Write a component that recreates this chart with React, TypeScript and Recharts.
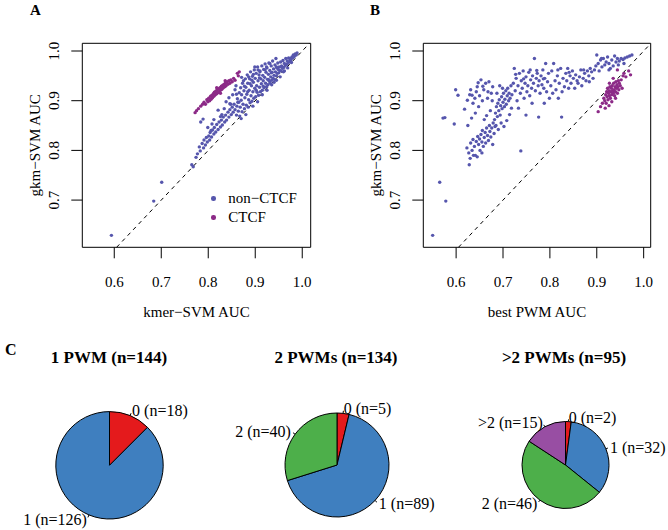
import React from 'react';
import { ScatterChart, Scatter, XAxis, YAxis, ReferenceLine, ReferenceArea, Legend, PieChart, Pie, Cell } from 'recharts';

const FONT = '"Liberation Serif", "Times New Roman", serif';
const NON_CTCF_COLOR = '#5656ad';
const CTCF_COLOR = '#8c2a87';

const X_TICKS = [0.6, 0.7, 0.8, 0.9, 1.0];
const Y_TICKS = [0.7, 0.8, 0.9, 1.0];
const Y_DOMAIN = [0.605, 1.0155];
const XA_DOMAIN = [0.532, 1.018];
const XB_DOMAIN = [0.53, 1.015];
const DIAG_A = [0.605, 1.0155];
const DIAG_B = [0.605, 1.015];
const LEGEND_ORDER = ['non\u2212CTCF', 'CTCF'];

// A: kmer-SVM AUC (x) vs gkm-SVM AUC (y)
const A_OTHER: [number, number][] = [
  [0.594, 0.629], [0.684, 0.698], [0.701, 0.736], [0.765, 0.771], [0.768, 0.767],
  [0.774, 0.786], [0.777, 0.793], [0.781, 0.807], [0.783, 0.799], [0.787, 0.814], [0.79, 0.805], [0.791, 0.821],
  [0.794, 0.811], [0.796, 0.826], [0.798, 0.817], [0.801, 0.829], [0.803, 0.821], [0.804, 0.836], [0.807, 0.827],
  [0.809, 0.841], [0.812, 0.833], [0.813, 0.846], [0.816, 0.837], [0.818, 0.852], [0.821, 0.842], [0.823, 0.857],
  [0.826, 0.847], [0.828, 0.861], [0.83, 0.851], [0.832, 0.867], [0.835, 0.857], [0.837, 0.871], [0.839, 0.861],
  [0.842, 0.877], [0.844, 0.867], [0.846, 0.882], [0.849, 0.872], [0.851, 0.887], [0.853, 0.877], [0.855, 0.893],
  [0.857, 0.882],
  [0.789, 0.863], [0.784, 0.857], [0.799, 0.846], [0.808, 0.853], [0.821, 0.881], [0.829, 0.872], [0.838, 0.898],
  [0.844, 0.906], [0.848, 0.893], [0.852, 0.912], [0.857, 0.922], [0.859, 0.93], [0.812, 0.862], [0.834, 0.884],
  [0.86, 0.871], [0.861, 0.889], [0.862, 0.904], [0.864, 0.879], [0.865, 0.897], [0.866, 0.916], [0.867, 0.869],
  [0.868, 0.887], [0.869, 0.926], [0.87, 0.901], [0.871, 0.912], [0.872, 0.878], [0.873, 0.935], [0.874, 0.893],
  [0.876, 0.92], [0.877, 0.884], [0.878, 0.906], [0.879, 0.944], [0.88, 0.927], [0.881, 0.891], [0.882, 0.913],
  [0.883, 0.952], [0.884, 0.935], [0.885, 0.887], [0.886, 0.902], [0.887, 0.921], [0.888, 0.944], [0.889, 0.896],
  [0.89, 0.958], [0.891, 0.91], [0.892, 0.93], [0.893, 0.899], [0.894, 0.949], [0.895, 0.918], [0.896, 0.937],
  [0.897, 0.905], [0.898, 0.962], [0.899, 0.925], [0.9, 0.945], [0.901, 0.908], [0.902, 0.955], [0.903, 0.93],
  [0.904, 0.917], [0.905, 0.968], [0.906, 0.94], [0.907, 0.911], [0.908, 0.952], [0.909, 0.927], [0.91, 0.96],
  [0.911, 0.918], [0.912, 0.944], [0.913, 0.934], [0.914, 0.97], [0.915, 0.921], [0.916, 0.951], [0.917, 0.94],
  [0.918, 0.963], [0.919, 0.926], [0.92, 0.947], [0.921, 0.974], [0.922, 0.935], [0.923, 0.957], [0.924, 0.928],
  [0.925, 0.966], [0.926, 0.943], [0.927, 0.932], [0.928, 0.953], [0.929, 0.976], [0.93, 0.939], [0.931, 0.961],
  [0.932, 0.935], [0.933, 0.948], [0.934, 0.97], [0.935, 0.941], [0.936, 0.957], [0.937, 0.98], [0.938, 0.945],
  [0.939, 0.964], [0.94, 0.951], [0.941, 0.943], [0.942, 0.972], [0.943, 0.958], [0.944, 0.985], [0.945, 0.95],
  [0.946, 0.966], [0.947, 0.955], [0.948, 0.976], [0.95, 0.956], [0.951, 0.968], [0.952, 0.961], [0.954, 0.978],
  [0.955, 0.96], [0.956, 0.97], [0.958, 0.965], [0.959, 0.981], [0.961, 0.967], [0.962, 0.975], [0.964, 0.971],
  [0.965, 0.985], [0.967, 0.973], [0.968, 0.98], [0.97, 0.976], [0.971, 0.986], [0.973, 0.979], [0.974, 0.985],
  [0.976, 0.983], [0.978, 0.988], [0.98, 0.986], [0.981, 0.992], [0.983, 0.989], [0.985, 0.994], [0.987, 0.992],
  [0.989, 0.996], [0.945, 0.968], [0.931, 0.975], [0.924, 0.968], [0.91, 0.958], [0.899, 0.968], [0.956, 0.968],
  [0.886, 0.948], [0.875, 0.94], [0.895, 0.889], [0.905, 0.898], [0.915, 0.912], [0.925, 0.921], [0.935, 0.932],
  [0.945, 0.941], [0.962, 0.96], [0.88, 0.872], [0.87, 0.864],
  [0.863, 0.897], [0.877, 0.929], [0.884, 0.918], [0.893, 0.941], [0.902, 0.921], [0.909, 0.946], [0.917, 0.929],
  [0.921, 0.962], [0.928, 0.943], [0.934, 0.956], [0.94, 0.937], [0.949, 0.963], [0.953, 0.948], [0.96, 0.958],
  [0.969, 0.966], [0.977, 0.977], [0.896, 0.953], [0.906, 0.962], [0.889, 0.934], [0.871, 0.947], [0.86, 0.913],
  [0.846, 0.894], [0.826, 0.868], [0.806, 0.84],
];

const A_CTCF: [number, number][] = [
  [0.772, 0.876], [0.775, 0.88], [0.779, 0.884], [0.784, 0.889], [0.788, 0.893], [0.791, 0.897], [0.794, 0.893],
  [0.797, 0.902], [0.799, 0.898], [0.801, 0.905], [0.803, 0.9], [0.805, 0.909], [0.806, 0.903], [0.808, 0.911],
  [0.809, 0.906], [0.811, 0.914], [0.812, 0.909], [0.813, 0.917], [0.815, 0.912], [0.816, 0.919], [0.818, 0.914],
  [0.819, 0.922], [0.82, 0.916], [0.822, 0.924], [0.823, 0.918], [0.825, 0.926], [0.826, 0.921], [0.828, 0.929],
  [0.829, 0.923], [0.831, 0.931], [0.832, 0.926], [0.834, 0.933], [0.835, 0.928], [0.837, 0.936], [0.838, 0.93],
  [0.84, 0.938], [0.842, 0.933], [0.844, 0.94], [0.846, 0.935], [0.848, 0.942], [0.851, 0.938], [0.854, 0.945],
  [0.857, 0.941], [0.862, 0.955], [0.866, 0.958], [0.864, 0.95], [0.818, 0.926], [0.826, 0.915], [0.836, 0.94],
];

// B: best PWM AUC (x) vs gkm-SVM AUC (y)
const B_OTHER: [number, number][] = [
  [0.55, 0.629], [0.565, 0.736], [0.578, 0.698], [0.596, 0.853], [0.572, 0.865], [0.576, 0.866], [0.604, 0.911],
  [0.599, 0.922], [0.866, 0.962], [0.825, 0.867],
  [0.628, 0.771], [0.623, 0.805], [0.627, 0.795], [0.631, 0.815], [0.634, 0.8], [0.636, 0.822], [0.639, 0.808],
  [0.641, 0.79], [0.643, 0.818], [0.645, 0.787], [0.646, 0.828], [0.648, 0.812], [0.65, 0.823], [0.651, 0.8],
  [0.653, 0.832], [0.655, 0.817], [0.656, 0.84], [0.658, 0.808], [0.66, 0.826], [0.662, 0.836], [0.663, 0.815],
  [0.665, 0.845], [0.667, 0.83], [0.669, 0.82], [0.671, 0.85], [0.672, 0.838], [0.674, 0.827], [0.676, 0.845],
  [0.678, 0.812], [0.679, 0.855], [0.681, 0.834], [0.683, 0.848], [0.637, 0.79], [0.655, 0.795], [0.63, 0.784],
  [0.618, 0.883], [0.624, 0.901], [0.629, 0.912], [0.631, 0.922], [0.636, 0.895], [0.64, 0.905], [0.643, 0.918],
  [0.645, 0.928], [0.648, 0.888], [0.65, 0.91], [0.653, 0.942], [0.656, 0.9], [0.659, 0.922], [0.663, 0.935],
  [0.665, 0.87], [0.667, 0.905], [0.67, 0.938], [0.673, 0.88], [0.675, 0.915], [0.678, 0.928], [0.633, 0.865],
  [0.641, 0.875], [0.66, 0.862], [0.625, 0.85],
  [0.682, 0.862], [0.684, 0.875], [0.686, 0.888], [0.688, 0.868], [0.689, 0.895], [0.691, 0.88], [0.692, 0.902],
  [0.694, 0.871], [0.695, 0.89], [0.697, 0.908], [0.698, 0.884], [0.7, 0.897], [0.701, 0.915], [0.703, 0.888],
  [0.704, 0.903], [0.706, 0.92], [0.707, 0.893], [0.709, 0.91], [0.71, 0.925], [0.712, 0.9], [0.713, 0.915],
  [0.715, 0.905], [0.717, 0.93], [0.719, 0.912], [0.685, 0.85], [0.69, 0.842], [0.696, 0.855], [0.702, 0.848],
  [0.708, 0.86], [0.714, 0.872], [0.718, 0.885], [0.699, 0.925], [0.693, 0.93], [0.687, 0.915],
  [0.722, 0.935], [0.724, 0.965], [0.726, 0.92], [0.728, 0.945], [0.73, 0.9], [0.732, 0.93], [0.735, 0.955],
  [0.737, 0.915], [0.739, 0.94], [0.741, 0.925], [0.743, 0.96], [0.745, 0.905], [0.747, 0.935], [0.749, 0.948],
  [0.751, 0.918], [0.753, 0.93], [0.755, 0.957], [0.757, 0.91], [0.759, 0.942], [0.761, 0.925], [0.763, 0.95],
  [0.765, 0.935], [0.767, 0.985], [0.769, 0.92], [0.771, 0.945], [0.773, 0.955], [0.775, 0.93], [0.777, 0.94],
  [0.779, 0.915], [0.781, 0.95], [0.783, 0.932], [0.785, 0.962], [0.787, 0.925], [0.789, 0.945], [0.791, 0.975],
  [0.793, 0.918], [0.795, 0.938], [0.797, 0.955], [0.799, 0.905], [0.749, 0.871], [0.776, 0.867], [0.738, 0.799],
  [0.733, 0.885], [0.762, 0.895], [0.788, 0.895],
  [0.802, 0.93], [0.804, 0.96], [0.806, 0.915], [0.808, 0.975], [0.811, 0.94], [0.813, 0.922], [0.816, 0.95],
  [0.818, 0.905], [0.82, 0.935], [0.823, 0.965], [0.826, 0.918], [0.828, 0.945], [0.831, 0.928], [0.834, 0.955],
  [0.836, 0.94], [0.838, 0.965], [0.84, 0.925], [0.843, 0.95], [0.845, 0.935], [0.848, 0.96], [0.85, 0.945],
  [0.853, 0.925], [0.855, 0.952], [0.858, 0.94], [0.86, 0.935], [0.863, 0.948], [0.868, 0.93], [0.871, 0.945],
  [0.874, 0.955], [0.877, 0.94], [0.88, 0.96], [0.883, 0.95], [0.886, 0.965], [0.889, 0.958], [0.892, 0.945],
  [0.895, 0.962], [0.898, 0.97], [0.9, 0.992], [0.903, 0.975], [0.905, 0.96], [0.908, 0.982], [0.911, 0.968],
  [0.914, 0.985], [0.917, 0.972], [0.92, 0.978], [0.923, 0.988], [0.926, 0.975], [0.929, 0.965], [0.932, 0.982],
  [0.935, 0.97], [0.938, 0.99], [0.941, 0.978], [0.944, 0.985], [0.948, 0.98], [0.952, 0.985], [0.956, 0.983],
  [0.96, 0.986], [0.965, 0.988], [0.97, 0.99], [0.975, 0.992], [0.91, 0.985], [0.926, 0.962], [0.946, 0.972],
  [0.958, 0.975],
  [0.634, 0.911], [0.647, 0.936], [0.657, 0.929], [0.668, 0.918], [0.677, 0.9], [0.727, 0.953], [0.744, 0.944],
  [0.758, 0.962], [0.772, 0.961], [0.786, 0.944], [0.817, 0.962], [0.841, 0.957], [0.872, 0.962], [0.884, 0.938],
];

const B_CTCF: [number, number][] = [
  [0.903, 0.878], [0.908, 0.888], [0.912, 0.895], [0.915, 0.905], [0.917, 0.9], [0.919, 0.912], [0.92, 0.895],
  [0.921, 0.918], [0.922, 0.908], [0.923, 0.925], [0.924, 0.902], [0.925, 0.915], [0.926, 0.92], [0.927, 0.91],
  [0.928, 0.928], [0.929, 0.905], [0.93, 0.918], [0.931, 0.925], [0.932, 0.912], [0.933, 0.93], [0.934, 0.92],
  [0.935, 0.915], [0.936, 0.935], [0.937, 0.922], [0.938, 0.91], [0.939, 0.928], [0.94, 0.918], [0.941, 0.938],
  [0.942, 0.925], [0.943, 0.932], [0.944, 0.915], [0.945, 0.928], [0.946, 0.94], [0.947, 0.922], [0.948, 0.935],
  [0.95, 0.93], [0.952, 0.942], [0.954, 0.925], [0.956, 0.95], [0.958, 0.955], [0.962, 0.948], [0.968, 0.96],
  [0.972, 0.952], [0.944, 0.962], [0.918, 0.885], [0.926, 0.89], [0.932, 0.898], [0.94, 0.905], [0.927, 0.935],
  [0.935, 0.945],
];

const PIE_TITLES = ['1 PWM (n=144)', '2 PWMs (n=134)', '>2 PWMs (n=95)'];
const PIE_ONE = [{ name: '0', value: 18 }, { name: '1', value: 126 }];
const PIE_TWO = [{ name: '0', value: 5 }, { name: '1', value: 89 }, { name: '2', value: 40 }];
const PIE_MANY = [{ name: '0', value: 2 }, { name: '1', value: 32 }, { name: '2', value: 46 }, { name: '>2', value: 15 }];
const SLICE_COLORS: Record<string, string> = { '0': '#e41a1c', '1': '#3f7fbf', '2': '#4daf4a', '>2': '#984ea3' };

const RAD = Math.PI / 180;
const toPts = (arr: [number, number][]) => arr.map(([x, y]) => ({ x, y }));

const XTick = (props: any) => (
  <text x={props.x} y={props.y} textAnchor="middle" fontSize={15} fontFamily={FONT} fill="#000">
    {Number(props.payload.value).toFixed(1)}
  </text>
);

// y labels sit ~12px left of the tick ends, rotated like R's las=0
const YTick = (props: any) => {
  const x = props.x - 10.5;
  return (
    <text x={x} y={props.y} transform={`rotate(-90, ${x}, ${props.y})`} textAnchor="middle" fontSize={15} fontFamily={FONT} fill="#000">
      {Number(props.payload.value).toFixed(1)}
    </text>
  );
};

const xTitle = (props: any) => {
  const vb = props.viewBox;
  return (
    <text x={vb.x + vb.width / 2} y={vb.y + 70} textAnchor="middle" fontSize={15} fontFamily={FONT} fill="#000">
      {props.value}
    </text>
  );
};

const yTitle = (left: number) => (props: any) => {
  const x = left - 41.8;
  const y = 145.3;
  return (
    <text x={x} y={y} transform={`rotate(-90, ${x}, ${y})`} textAnchor="middle" fontSize={15} fontFamily={FONT} fill="#000">
      {props.value}
    </text>
  );
};

const dot = (color: string) => (p: any) => <circle cx={p.cx} cy={p.cy} r={1.7} fill={color} />;

const LegendBox = (props: any) => {
  const items = [...(props.payload || [])].sort(
    (a: any, b: any) => LEGEND_ORDER.indexOf(a.value) - LEGEND_ORDER.indexOf(b.value),
  );
  return (
    <div style={{ fontFamily: FONT, fontSize: 15, color: '#000' }}>
      {items.map((p: any) => (
        <div key={p.value} style={{ display: 'flex', alignItems: 'center', height: 19.4 }}>
          <span style={{ display: 'inline-block', width: 4.5, height: 4.5, borderRadius: '50%', background: p.color, marginRight: 12.8 }} />
          <span>{p.value}</span>
        </div>
      ))}
    </div>
  );
};

const pieLabel = (p: any) => {
  const c = Math.cos(-p.midAngle * RAD);
  const s = Math.sin(-p.midAngle * RAD);
  const x = p.cx + p.outerRadius * 1.1 * c;
  const y = p.cy + p.outerRadius * 1.1 * s;
  const name = p.payload?.name ?? p.name;
  return (
    <text x={x} y={y} textAnchor={c >= 0 ? 'start' : 'end'} dominantBaseline="central" fontSize={16} fontFamily={FONT} fill="#000">
      {`${name} (n=${p.value})`}
    </text>
  );
};

const pieLabelLine = (p: any) => {
  const c = Math.cos(-p.midAngle * RAD);
  const s = Math.sin(-p.midAngle * RAD);
  const r = p.outerRadius;
  return (
    <path
      d={`M${p.cx + r * c},${p.cy + r * s}L${p.cx + r * 1.05 * c},${p.cy + r * 1.05 * s}`}
      stroke="#000"
      strokeWidth={1}
      fill="none"
    />
  );
};

const App = () => {
  return (
    <div style={{ position: 'absolute', left: 0, top: 0, width: 668, height: 530, background: '#fff', fontFamily: FONT }}>
      {/* A */}
      <div style={{ position: 'absolute', left: 0, top: 0 }}>
        <ScatterChart width={334} height={330} margin={{ top: 43.3, right: 23.3, bottom: 52.7, left: 42.3 }}>
          <XAxis
            type="number"
            dataKey="x"
            domain={XA_DOMAIN}
            ticks={X_TICKS}
            interval={0}
            allowDataOverflow
            height={30}
            axisLine={false}
            tickLine={{ stroke: '#000' }}
            tickSize={11}
            tickMargin={28.4}
            tick={<XTick />}
            label={{ value: 'kmer\u2212SVM AUC', content: xTitle }}
          />
          <YAxis
            type="number"
            dataKey="y"
            domain={Y_DOMAIN}
            ticks={Y_TICKS}
            interval={0}
            allowDataOverflow
            width={40}
            axisLine={false}
            tickLine={{ stroke: '#000' }}
            tickSize={11}
            tickMargin={2}
            tick={<YTick />}
            label={{ value: 'gkm\u2212SVM AUC', content: yTitle(82.3) }}
          />
          <ReferenceLine
            segment={[{ x: DIAG_A[0], y: DIAG_A[0] }, { x: DIAG_A[1], y: DIAG_A[1] }]}
            stroke="#000"
            strokeDasharray="4 4"
            ifOverflow="visible"
          />
          <Scatter name={'non\u2212CTCF'} data={toPts(A_OTHER)} fill={NON_CTCF_COLOR} shape={dot(NON_CTCF_COLOR)} isAnimationActive={false} />
          <Scatter name="CTCF" data={toPts(A_CTCF)} fill={CTCF_COLOR} shape={dot(CTCF_COLOR)} isAnimationActive={false} />
          <ReferenceArea
            x1={XA_DOMAIN[0]}
            x2={XA_DOMAIN[1]}
            y1={Y_DOMAIN[0]}
            y2={Y_DOMAIN[1]}
            fill="none"
            stroke="#000"
            strokeWidth={1}
            ifOverflow="visible"
          />
          <Legend
            layout="vertical"
            align="center"
            verticalAlign="middle"
            content={<LegendBox />}
            wrapperStyle={{ left: 211, top: 188.6, width: 'auto', margin: 0 }}
          />
        </ScatterChart>
      </div>

      {/* B */}
      <div style={{ position: 'absolute', left: 334, top: 0 }}>
        <ScatterChart width={334} height={330} margin={{ top: 43.3, right: 17.3, bottom: 52.7, left: 49.3 }}>
          <XAxis
            type="number"
            dataKey="x"
            domain={XB_DOMAIN}
            ticks={X_TICKS}
            interval={0}
            allowDataOverflow
            height={30}
            axisLine={false}
            tickLine={{ stroke: '#000' }}
            tickSize={11}
            tickMargin={28.4}
            tick={<XTick />}
            label={{ value: 'best PWM AUC', content: xTitle }}
          />
          <YAxis
            type="number"
            dataKey="y"
            domain={Y_DOMAIN}
            ticks={Y_TICKS}
            interval={0}
            allowDataOverflow
            width={40}
            axisLine={false}
            tickLine={{ stroke: '#000' }}
            tickSize={11}
            tickMargin={2}
            tick={<YTick />}
            label={{ value: 'gkm\u2212SVM AUC', content: yTitle(89.3) }}
          />
          <ReferenceLine
            segment={[{ x: DIAG_B[0], y: DIAG_B[0] }, { x: DIAG_B[1], y: DIAG_B[1] }]}
            stroke="#000"
            strokeDasharray="4 4"
            ifOverflow="visible"
          />
          <Scatter name={'non\u2212CTCF'} data={toPts(B_OTHER)} fill={NON_CTCF_COLOR} shape={dot(NON_CTCF_COLOR)} isAnimationActive={false} />
          <Scatter name="CTCF" data={toPts(B_CTCF)} fill={CTCF_COLOR} shape={dot(CTCF_COLOR)} isAnimationActive={false} />
          <ReferenceArea
            x1={XB_DOMAIN[0]}
            x2={XB_DOMAIN[1]}
            y1={Y_DOMAIN[0]}
            y2={Y_DOMAIN[1]}
            fill="none"
            stroke="#000"
            strokeWidth={1}
            ifOverflow="visible"
          />
        </ScatterChart>
      </div>

      {/* C */}
      <div style={{ position: 'absolute', left: 0, top: 340 }}>
        <PieChart width={668} height={190} margin={{ top: 0, right: 0, bottom: 0, left: 0 }}>
          {[PIE_ONE, PIE_TWO, PIE_MANY].map((data, i) => (
            <Pie
              key={i}
              data={data}
              dataKey="value"
              nameKey="name"
              cx={[109.5, 337, 565.5][i]}
              cy={[125.3, 125, 125][i]}
              outerRadius={[53.7, 52, 43.5][i]}
              startAngle={90}
              endAngle={-270}
              stroke="#000"
              strokeWidth={1}
              label={pieLabel}
              labelLine={pieLabelLine}
              isAnimationActive={false}
            >
              {data.map((d) => (
                <Cell key={d.name} fill={SLICE_COLORS[d.name]} />
              ))}
            </Pie>
          ))}
        </PieChart>
      </div>

      <svg width={668} height={530} style={{ position: 'absolute', left: 0, top: 0, pointerEvents: 'none' }}>
        <text x={30} y={15} fontSize={15} fontWeight="bold" fontFamily={FONT}>A</text>
        <text x={370} y={15} fontSize={15} fontWeight="bold" fontFamily={FONT}>B</text>
        <text x={5} y={355} fontSize={16} fontWeight="bold" fontFamily={FONT}>C</text>
        {PIE_TITLES.map((t, i) => (
          <text key={t} x={[109, 336, 564][i]} y={363} textAnchor="middle" fontSize={17} fontWeight="bold" fontFamily={FONT}>
            {t}
          </text>
        ))}
      </svg>
    </div>
  );
};

export default App;
